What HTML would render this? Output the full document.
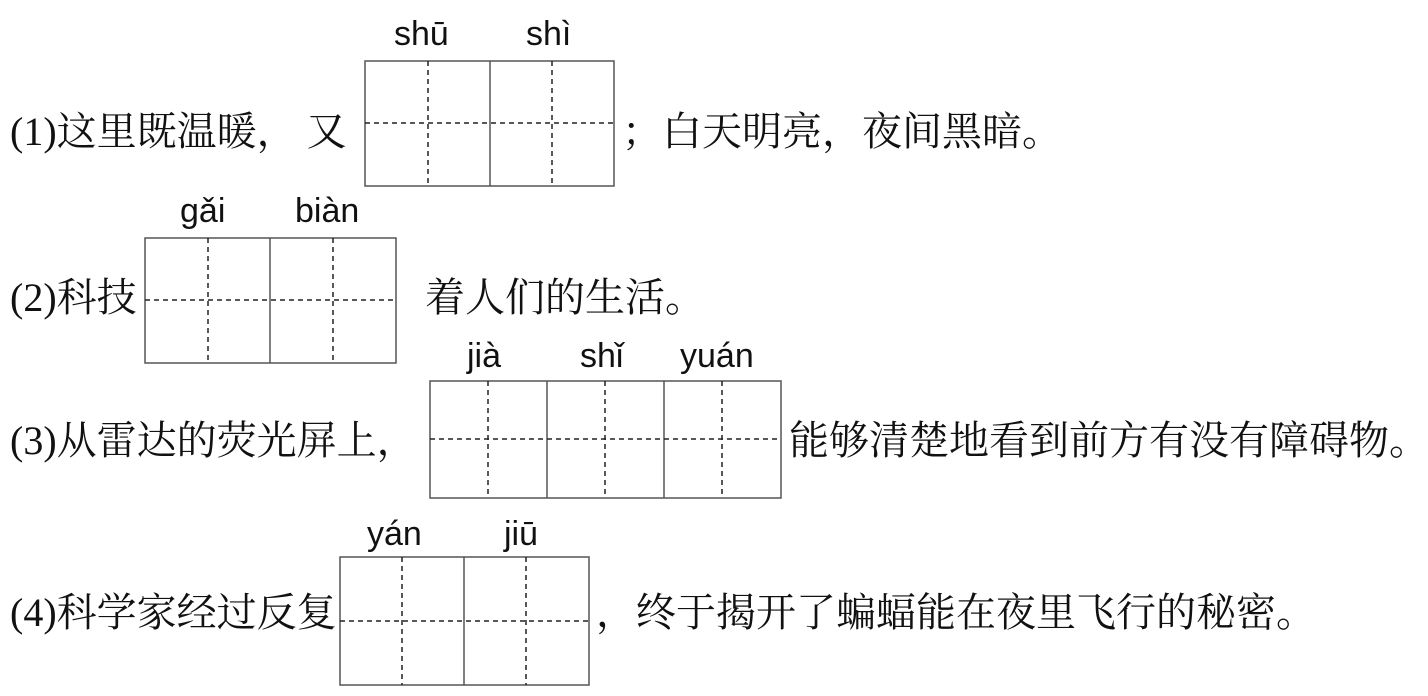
<!DOCTYPE html>
<html><head><meta charset="utf-8"><style>
body{margin:0;width:1428px;height:696px;background:#fff;position:relative;overflow:hidden}
.t{position:absolute;font-family:"Liberation Serif","Noto Serif CJK SC",serif;font-size:40px;line-height:40px;color:#111;white-space:nowrap}
.p{position:absolute;font-family:"Liberation Sans","DejaVu Sans",sans-serif;font-size:34px;line-height:36px;color:#111;white-space:nowrap}
svg{position:absolute;left:0;top:0}
</style></head><body>
<svg width="1428" height="696">
<g fill="none" stroke="#555" stroke-width="1.5">
<rect x="365" y="61" width="249" height="125"/><line x1="490" y1="61" x2="490" y2="186"/>
<rect x="145" y="238" width="251" height="125"/><line x1="270" y1="238" x2="270" y2="363"/>
<rect x="430" y="381" width="351" height="117"/><line x1="547" y1="381" x2="547" y2="498"/><line x1="664" y1="381" x2="664" y2="498"/>
<rect x="340" y="557" width="249" height="128"/><line x1="464" y1="557" x2="464" y2="685"/>
</g>
<g stroke="#222" stroke-width="1.5" stroke-dasharray="5,4">
<line x1="365" y1="123" x2="614" y2="123"/><line x1="428" y1="61" x2="428" y2="186"/><line x1="552" y1="61" x2="552" y2="186"/>
<line x1="145" y1="300" x2="396" y2="300"/><line x1="208" y1="238" x2="208" y2="363"/><line x1="333" y1="238" x2="333" y2="363"/>
<line x1="430" y1="439" x2="781" y2="439"/><line x1="488" y1="381" x2="488" y2="498"/><line x1="605" y1="381" x2="605" y2="498"/><line x1="722" y1="381" x2="722" y2="498"/>
<line x1="340" y1="621" x2="589" y2="621"/><line x1="402" y1="557" x2="402" y2="685"/><line x1="526" y1="557" x2="526" y2="685"/>
</g>
</svg>
<div class="p" style="left:394px;top:16px">shū</div>
<div class="p" style="left:526px;top:16px">shì</div>
<div class="t" style="left:10px;top:112px">(1)这里既温暖，&nbsp;又</div>
<div class="t" style="left:622px;top:112px">；白天明亮，夜间黑暗。</div>
<div class="p" style="left:180px;top:193px">gǎi</div>
<div class="p" style="left:295px;top:193px">biàn</div>
<div class="t" style="left:10px;top:278px">(2)科技</div>
<div class="t" style="left:425px;top:278px">着人们的生活。</div>
<div class="p" style="left:467px;top:338px">jià</div>
<div class="p" style="left:580px;top:338px">shǐ</div>
<div class="p" style="left:680px;top:338px">yuán</div>
<div class="t" style="left:10px;top:421px">(3)从雷达的荧光屏上，</div>
<div class="t" style="left:789px;top:421px">能够清楚地看到前方有没有障碍物。</div>
<div class="p" style="left:367px;top:516px">yán</div>
<div class="p" style="left:504px;top:516px">jiū</div>
<div class="t" style="left:10px;top:593px">(4)科学家经过反复</div>
<div class="t" style="left:596px;top:593px">，终于揭开了蝙蝠能在夜里飞行的秘密。</div>
</body></html>
